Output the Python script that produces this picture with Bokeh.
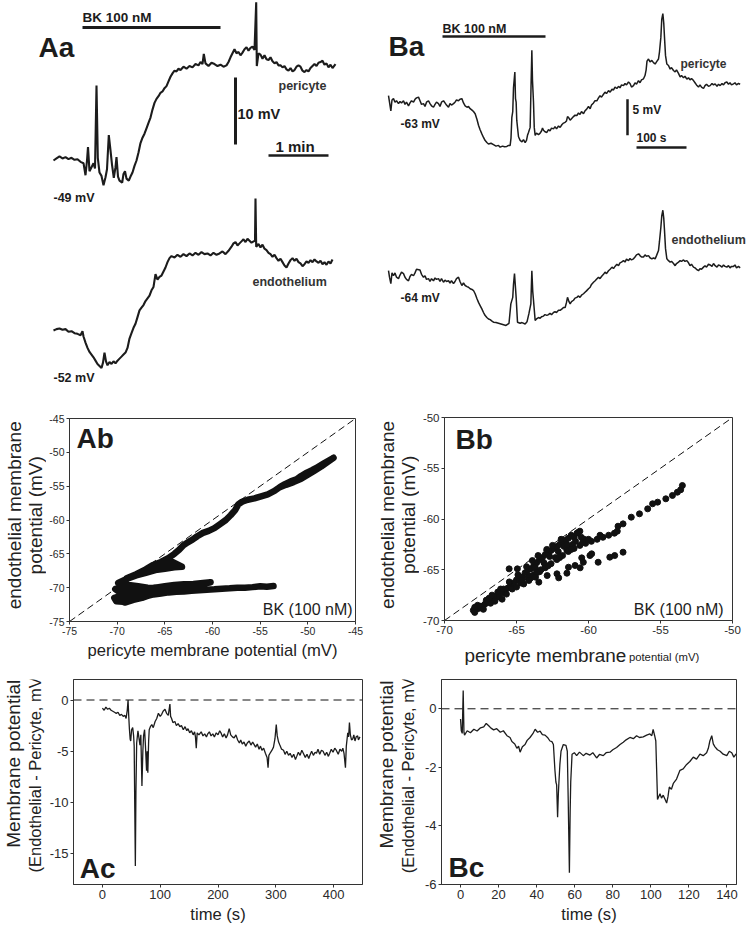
from bokeh.plotting import figure
from bokeh.models import Label, Range1d, Span, FixedTicker
from bokeh.layouts import row, column
from bokeh.embed import file_html
from bokeh.resources import INLINE

FONT = "Liberation Sans"
INK = "#1c1c1c"

# ---------------- Aa traces (t in s, mV) ----------------
aa_peri_pts = [(0,-49.0),(3,-48.7),(6,-48.4),(9,-48.7),(12,-48.5),(15,-48.8),(18,-48.6),(21,-48.9),(24,-48.8),(27,-49.2),
 (30,-49.4),(32,-51.2),(33.5,-49.0),(34.5,-47.0),(36,-50.6),(38,-50.0),(40,-49.4),(41.5,-50.2),(43,-37.8),(44.3,-48.6),
 (46,-50.8),(48,-51.3),(50,-52.7),(52,-51.5),(53.5,-50.3),(55.3,-45.2),(57,-47.5),(58.5,-49.6),(60.3,-51.6),(62,-50.0),
 (63,-48.5),(64.5,-51.4),(66,-52.0),(68.7,-52.3),(70,-51.0),(71.5,-50.6),(73,-51.7),(75.3,-52.0),(77,-51.4),(79,-50.8),
 (81,-49.8),(83,-49.0),(85,-47.8),(87,-46.4),(89,-45.6),(91,-45.0),(93,-44.2),(95,-43.4),(97,-42.6),(99,-41.4),
 (101,-40.4),(103,-39.8),(105,-39.4),(107,-38.9),(109,-38.7),(111,-38.2),(113,-37.9),(115,-37.2),(117,-36.5),(119,-36.0),
 (121,-35.6),(123,-35.7),(125,-35.3),(127,-35.5),(130,-35.0),(133,-35.3),(136,-34.9),(139,-35.1),(142,-34.6),(145,-34.8),
 (147,-34.3),(149,-34.6),(150.3,-33.1),(152,-34.5),(155,-34.9),(158,-34.4),(161,-34.6),(164,-34.9),(167,-34.7),(170,-35.0),
 (173,-34.8),(175,-34.3),(177,-33.6),(179,-33.0),(181,-32.4),(183,-33.0),(185,-32.8),(187,-33.3),(189,-32.9),(191,-32.4),
 (193,-32.1),(195,-32.6),(197,-32.2),(199,-32.0),(201,-32.5),(202.7,-25.4),(203.3,-34.9),(205,-33.0),(207,-33.2),(209,-33.8),
 (211,-33.3),(213,-33.9),(215,-34.0),(217,-33.6),(219,-34.2),(221,-34.5),(223,-34.3),(225,-34.8),(227,-34.8),(229,-35.1),
 (231,-34.9),(233,-35.4),(235,-35.6),(237,-35.2),(239,-35.7),(241,-35.5),(243,-35.0),(245,-34.8),(247,-35.0),(249,-35.6),
 (251,-35.8),(253,-35.5),(255,-35.7),(257,-35.2),(259,-34.9),(261,-34.6),(263,-34.9),(265,-34.4),(267,-34.3),(269,-34.1),
 (271,-34.7),(273,-34.5),(275,-35.1),(277,-34.7),(279,-35.2),(282,-34.6)]
aa_endo_pts = [(0,-52.0),(3,-51.8),(6,-51.7),(9,-51.9),(12,-51.8),(15,-52.2),(18,-52.1),(21,-52.4),(24,-52.5),(27,-52.7),
 (29,-52.1),(30,-52.9),(32,-53.8),(34,-54.6),(36,-55.2),(38,-55.6),(40,-56.0),(42,-56.5),(44,-57.0),(46,-57.3),
 (48,-57.6),(49.5,-56.8),(51,-55.3),(52.5,-56.6),(54,-57.2),(56,-56.7),(58,-57.0),(60,-56.6),(62,-56.9),(64,-56.5),
 (66,-56.2),(68,-55.9),(70,-55.6),(72,-55.3),(74,-54.6),(76,-53.2),(78,-52.4),(80,-51.6),(82,-51.0),(84,-50.0),
 (86,-49.0),(88,-48.6),(90,-48.2),(92,-47.6),(94,-47.2),(96,-46.8),(98,-46.0),(100,-45.5),(102,-43.6),(104,-44.4),
 (106,-44.0),(108,-43.8),(110,-43.2),(112,-42.6),(114,-41.8),(116,-41.2),(118,-40.9),(121,-41.1),(124,-40.7),(127,-41.0),
 (130,-40.6),(133,-40.9),(136,-40.5),(139,-40.8),(142,-40.4),(145,-40.7),(148,-40.3),(151,-40.6),(154,-40.5),(157,-40.8),
 (160,-40.4),(163,-40.7),(166,-40.5),(169,-40.2),(172,-40.6),(175,-40.1),(178,-39.5),(180,-39.0),(182,-38.8),(184,-39.3),
 (186,-39.0),(188,-38.7),(190,-38.4),(192,-38.8),(194,-38.3),(196,-38.6),(198,-38.9),(201.5,-38.6),(202,-32.3),(202.7,-39.5),
 (205,-39.1),(207,-39.6),(209,-39.2),(211,-39.8),(213,-40.0),(215,-40.4),(217,-40.6),(219,-41.0),(221,-40.7),(223,-41.2),
 (225,-41.6),(227,-41.3),(229,-41.8),(231,-42.3),(233,-42.6),(235,-42.0),(237,-41.5),(239,-41.2),(241,-41.6),(243,-41.3),
 (245,-41.8),(247,-42.0),(249,-42.4),(251,-42.1),(253,-41.7),(255,-41.9),(257,-41.5),(259,-41.8),(261,-41.4),(263,-41.7),
 (265,-41.9),(267,-41.6),(269,-42.1),(271,-41.8),(273,-42.2),(275,-41.7),(277,-42.0),(279,-41.4)]
aa_bk_window = [29, 167]          # s, BK application bar
aa_bk_level = -29.15
aa_mv_bar_t = 182
aa_mv_bar = [-46.6, -36.6]        # 10 mV
aa_min_bar = [215, 275]           # 1 min
aa_min_level = -48.25

# ---------------- Ba traces ----------------
ba_peri_pts = [(0,-62.1),(2,-63.0),(4.7,-64.2),(7,-62.7),(10,-62.5),(13,-63.0),(16,-62.8),(20,-63.2),(23,-62.9),(26,-63.1),
 (30,-62.8),(33,-63.3),(36,-63.0),(40,-63.5),(43,-63.1),(46,-62.8),(50,-63.0),(53,-62.6),(56,-62.4),(60,-62.3),
 (63,-62.8),(66,-63.3),(70,-63.2),(73,-63.6),(76,-63.0),(80,-62.8),(83,-63.2),(86,-63.5),(90,-63.7),(93,-63.3),
 (96,-63.0),(100,-63.2),(103,-63.6),(106,-63.0),(110,-62.8),(113,-63.1),(116,-63.4),(120,-63.7),(123,-63.2),(126,-63.4),
 (130,-63.2),(133,-63.0),(136,-62.7),(140,-62.8),(143,-62.6),(146.7,-62.5),(150,-63.1),(153.3,-63.5),(157,-63.7),(160,-63.6),
 (163.3,-63.9),(167,-64.1),(170,-64.3),(173.3,-64.6),(177,-65.4),(180,-66.2),(183,-66.8),(186.7,-67.4),(190,-67.9),(193,-68.3),
 (196.7,-68.6),(200,-68.8),(205,-68.7),(210,-68.9),(215,-69.1),(220,-69.0),(223.3,-69.25),(228,-69.1),(232,-69.2),(236.7,-69.15),
 (240,-69.0),(243.3,-69.0),(245,-68.0),(246.7,-65.1),(248.5,-64.3),(250,-61.0),(252.7,-58.8),(254,-62.5),(255.3,-63.0),(256.5,-65.5),
 (258,-66.5),(260,-67.8),(263.3,-68.3),(267,-68.5),(270,-68.2),(273.3,-68.6),(276,-68.3),(278,-67.6),(280,-67.2),(283.3,-66.5),
 (285,-61.0),(286.7,-55.8),(288,-60.0),(290,-63.0),(291.5,-66.5),(293.3,-67.6),(296,-67.3),(300,-67.5),(303.3,-67.3),(306,-67.0),
 (308,-66.6),(310,-66.9),(313,-67.1),(316.7,-67.2),(320,-66.8),(323,-67.0),(326,-66.6),(330,-66.7),(333,-66.4),(336,-66.7),
 (340,-66.3),(343.3,-66.5),(347,-66.1),(350,-65.9),(353.3,-65.8),(356,-65.6),(358,-65.0),(360,-65.1),(363.3,-65.5),(366,-65.3),
 (370,-65.0),(373,-64.8),(376.7,-64.85),(380,-64.5),(383,-64.7),(386,-64.3),(390,-64.6),(393,-64.2),(396,-64.0),(400,-63.6),
 (403.3,-63.9),(406,-63.4),(410,-63.1),(413,-62.8),(416.7,-62.8),(420,-62.4),(423,-62.1),(426,-62.3),(430,-61.9),(433,-61.6),
 (436,-61.8),(440,-61.4),(443.3,-61.6),(447,-61.2),(450,-61.3),(453,-60.9),(456.7,-61.1),(460,-60.8),(463,-61.0),(466,-60.6),
 (470,-60.7),(473,-60.4),(476,-60.6),(480,-60.2),(483,-60.4),(486,-60.9),(490,-60.7),(493,-60.3),(496,-60.5),(500,-60.0),
 (503,-60.3),(506,-59.9),(510,-59.75),(513,-59.3),(515.3,-58.5),(517,-57.3),(520,-57.0),(523,-57.4),(526.7,-57.2),(530,-57.5),
 (533.3,-57.7),(536,-57.4),(540,-57.0),(542,-56.0),(544.7,-54.0),(546.5,-51.5),(548.7,-50.7),(550.5,-52.0),(552,-54.0),(554,-56.5),
 (556.7,-57.7),(560,-57.9),(563.3,-58.4),(566,-58.2),(570,-58.6),(573.3,-58.8),(576,-58.5),(580,-59.0),(583.3,-59.5),(586,-59.3),
 (590,-59.6),(593,-59.4),(596.7,-59.8),(600,-59.6),(603,-59.9),(606,-59.7),(610,-60.0),(613,-60.3),(616,-60.6),(620,-60.9),
 (623,-60.6),(626,-60.9),(630,-61.1),(633,-60.7),(636,-60.5),(640,-60.8),(643.3,-60.7),(647,-60.4),(650,-60.6),(653.3,-60.45),
 (657,-60.8),(660,-60.5),(663.3,-60.7),(667,-60.4),(670,-60.6),(673,-60.3),(676.7,-60.2),(680,-60.5),(683,-60.3),(686,-60.6),
 (690,-60.45),(693,-60.3),(696,-60.6),(700,-60.4),(703.3,-60.5)]
ba_endo_pts = [(0,-63.1),(2,-64.0),(4.7,-64.9),(7,-63.4),(10,-63.8),(13,-63.4),(16,-64.0),(20,-64.2),(23,-63.7),(26,-63.3),
 (30,-63.5),(33,-64.0),(36,-64.3),(40,-64.5),(43,-63.9),(46,-63.6),(50,-63.8),(53,-63.4),(56,-62.9),(63,-63.0),
 (66,-63.6),(70,-64.0),(73,-63.8),(76,-64.3),(80,-64.2),(83,-64.6),(86,-64.2),(90,-64.5),(93,-64.1),(96,-64.3),
 (100,-64.2),(103,-64.6),(106,-64.2),(110,-64.7),(113,-64.4),(116,-64.6),(120,-64.5),(123,-64.8),(126,-64.5),(130,-64.9),
 (133,-64.6),(136,-64.2),(140,-64.0),(143,-64.6),(146.7,-65.15),(150,-64.8),(153.3,-65.15),(157,-65.3),(160,-65.4),(163.3,-65.6),
 (167,-65.7),(170,-65.85),(173.3,-66.3),(177,-67.0),(180,-67.5),(183,-67.9),(186.7,-68.4),(190,-68.9),(193,-69.3),(196.7,-69.6),
 (200,-69.8),(203.3,-69.9),(207,-70.1),(210,-70.25),(215,-70.3),(220,-70.4),(225,-70.5),(230,-70.6),(235,-70.7),(241,-70.4),
 (244.7,-67.7),(248.5,-66.8),(250,-65.0),(252,-63.5),(253.5,-65.0),(255.3,-66.8),(258,-70.25),(263.3,-70.4),(267,-70.3),(273.3,-70.5),
 (277,-70.2),(280.7,-69.1),(284.7,-67.7),(286.7,-63.1),(288.5,-66.0),(290,-67.2),(293.3,-70.0),(296,-69.8),(300,-69.6),(303.3,-69.7),
 (306,-69.5),(310,-69.4),(313,-69.2),(316.7,-69.3),(320,-69.2),(323,-69.0),(326,-69.2),(330,-68.9),(333,-68.8),(336,-68.9),
 (340,-68.6),(343.3,-68.6),(347,-68.4),(350,-68.2),(353.3,-68.2),(356,-67.5),(358,-66.8),(361,-67.4),(363.3,-67.7),(366,-67.4),
 (370,-67.2),(373,-66.9),(376.7,-66.8),(380,-66.6),(383,-66.8),(386,-66.5),(390,-66.3),(393,-66.1),(396,-65.9),(400,-65.6),
 (403.3,-65.4),(406,-65.0),(410,-64.7),(413.3,-64.5),(416,-64.3),(420,-64.0),(423,-64.2),(426,-63.9),(430,-63.6),(433,-63.3),
 (436,-63.5),(440,-63.1),(443.3,-62.9),(447,-62.6),(450,-62.8),(453,-62.5),(456.7,-62.2),(460,-62.4),(463,-62.0),(466,-61.9),
 (470,-61.7),(473,-61.9),(476,-61.5),(480,-61.7),(483,-61.4),(486,-61.6),(490,-61.45),(493,-61.2),(496,-60.9),(500,-60.75),
 (503,-61.0),(506,-61.2),(510,-61.2),(513,-60.9),(516,-61.1),(520,-61.0),(523,-61.3),(526.7,-61.45),(530,-61.3),(533.3,-61.45),
 (536,-61.0),(540,-60.3),(542,-59.0),(544.7,-57.1),(546.5,-55.5),(548.7,-54.7),(550.5,-55.8),(552,-57.5),(554,-60.0),(556.7,-61.45),
 (560,-61.7),(563.3,-61.9),(566,-61.8),(570,-62.1),(573.3,-62.4),(576,-62.1),(580,-61.9),(583.3,-61.7),(586,-61.8),(590,-61.6),
 (593,-61.8),(596.7,-61.7),(600,-62.0),(603,-62.4),(606,-62.2),(610,-62.6),(613,-62.7),(616,-62.9),(620,-63.1),(623,-62.8),
 (626,-62.9),(630,-62.6),(633,-62.4),(636,-62.6),(640,-62.2),(643.3,-62.3),(647,-62.5),(650,-62.1),(653.3,-62.4),(657,-62.6),
 (660,-62.3),(663.3,-62.4),(667,-62.6),(670,-62.3),(673,-62.5),(676.7,-62.6),(680,-62.4),(683,-62.7),(686,-62.5),(690,-62.5),
 (693,-62.3),(696,-62.7),(700,-62.5),(703.3,-62.7)]
ba_bk_window = [108, 314]
ba_bk_level = -53.87
ba_mv_bar_t = 478
ba_mv_bar = [-67.6, -62.6]        # 5 mV
ba_s_bar = [496, 596]             # 100 s
ba_s_level = -69.3

# ---------------- Ab: endothelial vs pericyte ----------------
ab_peri = [-53.6,-54.3,-55.0,-55.8,-56.6,-57.4,-58.2,-59.0,-59.8,-60.6,-61.4,-62.2,-63.0,-63.8,-64.6,-65.4,-66.2,
 -67.0,-67.8,-68.6,-69.4,-70.1,-70.3,-69.6,-68.8,-69.8,-70.2,-69.3,-68.4,-67.5,-66.6,-67.4,-68.3,-69.2,-70.0,-69.0,-68.0,-67.0,-66.0,
 -65.0,-64.0,-63.0,-62.0,-61.0,-60.2,-61.2,-62.4,-63.6,-64.8,-65.8,-66.8,-67.8,-68.8,-69.9,
 -69.0,-68.0,-67.0,-66.0,-65.0,-64.0,-63.2,
 -64.2,-65.2,-66.2,-67.2,-68.2,-69.0,
 -68.0,-67.0,-66.3,-65.4,-64.6,-64.0,-63.5,-63.1,-62.6,-62.1,-61.6,-61.0,-60.4,-59.8,-59.2,-58.6,-58.1,-57.6,-57.3,-56.9,
 -56.3,-55.6,-54.9,-54.2,-53.5,-52.9,-52.4,-51.8,-51.2,-50.7,-50.1,-49.5,-49.0,-48.4,-47.8,-47.3,
 -47.9,-48.6,-49.3,-50.0,-50.7,-51.5,-52.3,-53.0]
ab_endo = [-69.77,-69.85,-69.8,-69.92,-70.0,-70.0,-70.1,-70.15,-70.25,-70.3,-70.4,-70.45,-70.55,-70.6,-70.7,-70.85,-71.0,
 -71.3,-71.6,-71.9,-72.1,-72.0,-71.5,-71.2,-70.9,-70.6,-70.2,-69.9,-70.3,-70.7,-71.1,-71.5,-71.8,-72.2,-71.7,-71.2,-70.8,-70.4,-70.0,
 -69.8,-69.6,-69.5,-69.45,-69.3,-69.2,-69.5,-69.7,-69.8,-70.0,-70.1,-70.0,-69.8,-69.6,-69.3,
 -68.7,-68.2,-67.8,-67.4,-67.2,-67.0,-66.9,
 -66.2,-66.6,-67.2,-67.7,-68.2,-68.6,
 -68.0,-67.3,-66.7,-66.2,-65.6,-65.0,-64.4,-63.8,-63.3,-62.9,-62.4,-61.9,-61.6,-61.2,-60.6,-60.0,-59.3,-58.5,-57.7,-57.3,
 -57.0,-56.8,-56.5,-56.2,-55.7,-55.1,-54.7,-54.3,-54.0,-53.5,-53.0,-52.6,-52.2,-51.7,-51.2,-50.8,
 -51.4,-52.1,-52.7,-53.3,-53.9,-54.4,-54.8,-55.2]
ab_identity = [-75, -45]
ab_ticks = [-75, -70, -65, -60, -55, -50, -45]

# ---------------- Bb: endothelial vs pericyte (points) ----------------
bb_peri = [-68.0,-67.8,-67.6,-67.4,-67.7,-67.2,-67.0,-66.8,-66.6,-66.9,-66.4,-66.2,-66.0,-65.8,-66.1,-65.6,-65.4,-65.2,-65.5,-65.0,
 -64.8,-64.6,-64.9,-64.4,-64.2,-64.0,-64.3,-63.8,-63.6,-63.9,-63.4,-63.2,-63.5,-63.0,-62.8,-62.6,-62.9,-62.4,-62.2,-62.5,
 -62.0,-61.8,-61.6,-61.9,-61.4,-61.2,-61.0,-60.8,-60.6,-60.9,-61.3,-67.9,-67.5,-67.1,-66.7,-66.3,-65.9,-65.3,-64.7,-64.1,
 -63.7,-63.1,-62.7,-62.1,-61.7,-61.5,-60.7,
 -67.3,-66.5,-65.7,-64.5,-63.3,-62.3,-61.1,-60.5,-67.9,-66.0,-64.0,-62.0,-63.0,-65.0,-61.5,-60.3,
 -64.6,-64.2,-63.8,-63.4,-63.0,-62.6,-62.2,-61.8,-61.4,-61.0,-60.6,-60.2,-59.8,-59.4,-59.0,-58.6,-58.2,-58.0,-60.0,-59.2,
 -60.4,-61.2,-62.0,-62.8,-63.6,
 -57.95,-57.6,-57.03,-56.46,-55.89,-55.55,-55.2,-54.63,-54.17,-53.83,-53.6,-53.48,
 -65.51,-64.94,-64.14,-63.68,-63.45,-62.87,-62.19,-62.07,-61.5,-61.39,-60.93,-60.47,-60.36,-59.9,-59.78,-60.58,-59.33,-58.52,-58.18,-57.6]
bb_endo = [-69.0,-68.9,-68.8,-68.6,-68.5,-68.4,-68.2,-68.3,-67.9,-67.8,-67.6,-67.7,-67.3,-67.1,-66.9,-66.8,-66.6,-66.3,-66.2,-66.0,
 -66.1,-65.7,-65.5,-65.3,-65.0,-64.9,-64.7,-64.6,-64.3,-64.1,-64.0,-63.8,-63.6,-63.5,-63.4,-63.1,-63.0,-62.9,-62.7,-62.6,
 -62.5,-62.3,-62.1,-62.0,-61.9,-61.6,-61.8,-61.4,-61.2,-62.2,-62.8,-68.7,-68.6,-68.0,-67.5,-67.2,-66.9,-66.9,-66.3,-65.6,
 -64.8,-64.3,-63.7,-63.2,-62.7,-62.5,-61.3,
 -68.9,-68.1,-67.4,-66.4,-65.0,-63.8,-62.5,-61.8,-69.2,-67.9,-65.8,-63.8,-64.6,-66.7,-63.1,-62.0,
 -66.0,-65.8,-65.5,-65.2,-64.8,-64.4,-64.0,-63.6,-63.2,-62.9,-62.6,-62.4,-62.2,-62.0,-61.8,-61.6,-61.4,-61.2,-62.0,-61.6,
 -62.3,-63.0,-63.7,-64.6,-65.3,
 -60.71,-60.48,-59.82,-59.49,-59.0,-58.5,-58.34,-58.01,-57.68,-57.36,-57.12,-56.7,
 -64.91,-64.91,-66.06,-65.73,-66.22,-65.57,-65.4,-65.8,-65.34,-64.75,-64.58,-63.83,-64.26,-63.6,-63.43,-64.81,-64.26,-63.76,-63.6,-63.27]
bb_identity = [-70, -50]
bb_ticks = [-70, -65, -60, -55, -50]

# ---------------- Ac: endothelial - pericyte ----------------
ac_pts = [(0,-0.8),(3,-1.0),(6,-0.7),(9,-0.9),(12,-0.8),(15,-1.0),(18,-1.1),(21,-1.2),(24,-1.3),(27,-1.2),(30,-1.5),(33,-1.4),
 (36,-1.6),(39,-1.5),(41,-1.8),(43,-1.0),(44.4,0.0),(45.5,-1.5),(46.7,-2.8),(48,-3.8),(49,-4.0),(50.5,-2.9),(52.4,-2.7),(54,-3.5),
 (55,-4.5),(56,-10.5),(57,-16.2),(58,-9.0),(59.3,-4.2),(61.5,-3.0),(63,-3.6),(65,-4.4),(66.5,-3.4),(68.4,-8.4),(70,-5.0),(71.2,-3.5),
 (73,-2.9),(74.5,-4.5),(76.4,-6.9),(77.5,-5.0),(78.6,-7.1),(80,-4.0),(81,-2.9),(83,-2.6),(85.5,-2.4),(88,-2.7),(91.2,-2.1),(94,-1.8),
 (96.9,-1.3),(100,-1.6),(102.6,-1.4),(105,-1.1),(108.3,-0.9),(111,-1.3),(114,-1.5),(116.8,-0.4),(118,-1.6),(119.7,-1.8),(122,-2.2),
 (125.4,-2.1),(128,-2.5),(131,-2.3),(134,-2.6),(136.8,-2.5),(140,-2.9),(143,-2.6),(146,-3.0),(148.1,-2.8),(151,-3.2),(154,-3.0),
 (157,-3.4),(159.5,-3.1),(161,-3.6),(162.4,-4.7),(164,-3.2),(167,-3.4),(170.9,-3.1),(174,-3.5),(177,-3.3),(180,-3.6),(182.3,-3.3),
 (185,-3.1),(188,-3.5),(191,-3.3),(193.7,-3.6),(197,-3.2),(200,-3.4),(203,-3.0),(205.1,-3.2),(208,-3.6),(211,-3.3),(214,-3.7),
 (216.5,-3.4),(219.4,-2.8),(222,-3.4),(225,-3.6),(227.9,-3.7),(231,-3.4),(234,-3.9),(237,-4.2),(239.3,-3.9),(242,-4.3),(245,-4.1),
 (248,-4.5),(250.7,-4.2),(254,-4.0),(257,-4.4),(260,-4.1),(262.1,-4.3),(265,-4.6),(268,-4.3),(271,-4.8),(273.5,-4.5),(276,-4.9),
 (279,-4.7),(282,-5.2),(284.9,-5.6),(286.6,-6.6),(288,-5.4),(291,-5.1),(293.4,-4.9),(296,-4.6),(298.5,-3.8),(300.8,-2.4),(302.5,-3.5),
 (304.8,-4.1),(307,-4.4),(310,-4.8),(313.4,-4.9),(316,-5.3),(319,-5.0),(322,-5.4),(324.8,-5.2),(328,-5.6),(331,-5.3),(334,-5.8),
 (336.2,-5.5),(339,-5.1),(342,-5.4),(345,-4.9),(347.6,-5.2),(351,-5.6),(354,-5.3),(357,-5.7),(359,-5.4),(362,-5.0),(365,-5.4),
 (368,-5.1),(370.4,-5.2),(373,-4.8),(376,-5.3),(379,-4.9),(381.8,-5.0),(385,-5.4),(388,-5.1),(391,-5.5),(393.2,-5.2),(396,-4.8),
 (399,-5.1),(402,-4.7),(404.6,-4.9),(408,-5.3),(411,-4.8),(414,-5.0),(416,-4.7),(418,-5.2),(420.5,-6.6),(422,-4.5),(424.5,-3.2),
 (426,-3.6),(427.4,-2.2),(429,-3.4),(431,-3.9),(433.1,-3.8),(435,-3.4),(437,-4.0),(439,-3.6),(441.6,-3.5),(443,-3.9),(445.6,-3.6)]
ac_xticks = [0, 100, 200, 300, 400]
ac_yticks = [0, -5, -10, -15]

# ---------------- Bc: endothelial - pericyte ----------------
bc_pts = [(0,-0.35),(0.4,-0.75),(0.9,-0.84),(1.4,0.62),(1.8,-0.8),(2.1,-0.9),(3.5,-0.75),(5.2,-0.82),(7,-0.7),(8.7,-0.76),
 (10.5,-0.65),(12.2,-0.62),(13.5,-0.5),(14.8,-0.58),(16,-0.66),(17.4,-0.72),(19,-0.68),(20.9,-0.8),(22.5,-0.75),(24.4,-0.92),
 (26,-0.98),(27,-1.12),(28.5,-1.2),(29.6,-1.35),(30.5,-1.28),(31.3,-1.48),(32.5,-1.3),(33.9,-1.22),(35,-1.08),(36.5,-0.98),
 (38,-0.85),(39.2,-0.7),(40.5,-0.8),(41.8,-0.76),(43,-0.88),(44.4,-0.9),(45.7,-0.98),(47,-1.1),(48,-1.12),(48.8,-1.22),
 (49.6,-2.1),(50.1,-2.5),(50.5,-2.6),(51,-3.7),(51.4,-2.9),(51.7,-2.5),(52.2,-1.9),(52.8,-1.45),(54,-1.22),(55.4,-1.25),
 (56.1,-1.45),(56.6,-3.2),(57.2,-5.6),(57.6,-3.5),(57.9,-2.5),(58.6,-1.55),(59.8,-1.5),(61,-1.6),(62.5,-1.48),(64.5,-1.6),
 (66,-1.52),(68,-1.58),(69.5,-1.5),(71.5,-1.68),(73,-1.56),(75,-1.6),(76.5,-1.5),(78.5,-1.48),(80,-1.4),(82,-1.32),
 (83.8,-1.22),(85.5,-1.14),(87,-1.06),(89,-0.98),(90.8,-1.02),(92.5,-0.92),(94,-0.98),(96,-0.96),(97.8,-0.9),(99.5,-0.86),
 (100.5,-0.92),(101.2,-0.7),(102,-0.92),(102.6,-1.1),(103,-2.0),(103.5,-3.1),(104.8,-2.9),(105.6,-3.05),(106.5,-2.95),(107.5,-3.1),
 (108.3,-3.22),(109,-3.0),(109.7,-2.67),(110.8,-2.75),(111.8,-2.55),(113.5,-2.4),(115.3,-2.1),(117,-2.05),(118.8,-1.9),(120.5,-1.8),
 (122.3,-1.65),(124,-1.72),(125.8,-1.55),(127.5,-1.6),(129.3,-1.5),(130.2,-1.35),(131,-1.1),(132,-0.92),(132.8,-1.2),(133.7,-1.3),
 (135,-1.4),(136.4,-1.45),(138,-1.55),(139.9,-1.6),(141.2,-1.45),(142.5,-1.5),(143.6,-1.65),(144.8,-1.54)]
bc_xticks = [0, 20, 40, 60, 80, 100, 120, 140]
bc_yticks = [0, -2, -4, -6]


def unzip(pts):
    return [p[0] for p in pts], [p[1] for p in pts]


def lab(p, x, y, text, size, bold=True, align="left", rng=None, color=INK, angle=0):
    kw = {}
    if rng:
        kw["y_range_name"] = rng
    p.add_layout(Label(x=x, y=y, text=text, text_font=FONT, text_font_size=f"{size}px",
                       text_font_style="bold" if bold else "normal", text_color=color,
                       text_align=align, text_baseline="middle", angle=angle, angle_units="deg", **kw))


def bare_fig(width, height, xr, yr):
    p = figure(width=width, height=height, x_range=Range1d(*xr), y_range=Range1d(*yr),
               x_axis_type=None, y_axis_type=None, output_backend="svg", toolbar_location=None,
               title=None, min_border=0)
    p.grid.visible = False
    p.outline_line_color = None
    return p


def strip(width, height, x0, y0):
    # a text-only strip whose coordinates are page pixels (y grows downward)
    return bare_fig(width, height, (x0, x0 + width), (y0 + height, y0))


def trace_fig(width, height, xr, yr, yr2):
    p = bare_fig(width, height, xr, yr)
    p.extra_y_ranges = {"endo": Range1d(*yr2)}
    return p


def axis_fig(width, height, xr, yr, borders, xticks, yticks, tick_size):
    l, r, t, b = borders
    p = figure(width=width, height=height, x_range=Range1d(*xr), y_range=Range1d(*yr),
               output_backend="svg", toolbar_location=None, title=None,
               min_border_left=l, min_border_right=r, min_border_top=t, min_border_bottom=b)
    p.grid.visible = False
    p.outline_line_color = "#333333"
    p.outline_line_width = 1
    p.xaxis.ticker = FixedTicker(ticks=xticks)
    p.yaxis.ticker = FixedTicker(ticks=yticks)
    p.xaxis.major_label_overrides = {v: str(v) for v in xticks}
    p.yaxis.major_label_overrides = {v: str(v) for v in yticks}
    for ax in p.axis:
        ax.axis_line_color = "#333333"
        ax.major_tick_line_color = "#333333"
        ax.major_tick_out = 3
        ax.major_tick_in = 0
        ax.minor_tick_line_color = None
        ax.major_label_text_font = FONT
        ax.major_label_text_font_size = f"{tick_size}px"
        ax.major_label_text_color = "#2a2a2a"
        ax.major_label_standoff = 2
        ax.axis_label_text_font = FONT
        ax.axis_label_text_font_style = "normal"
        ax.axis_label_text_color = "#222222"
        ax.axis_label_standoff = 3
    return p


# ---------- Aa ----------
pa = trace_fig(373, 386, (-53, 320), (-82.73, -25.12), (-60.36, -2.75))
t, v = unzip(aa_peri_pts)
pa.line(t, v, line_color=INK, line_width=2.1)
t, v = unzip(aa_endo_pts)
pa.line(t, v, line_color=INK, line_width=2.1, y_range_name="endo")
pa.line(aa_bk_window, [aa_bk_level] * 2, line_color=INK, line_width=3)
pa.line([aa_mv_bar_t] * 2, aa_mv_bar, line_color=INK, line_width=3)
pa.line(aa_min_bar, [aa_min_level] * 2, line_color=INK, line_width=2.5)
lab(pa, -15, -32.13, "Aa", 28)
lab(pa, 29, -27.73, "BK 100 nM", 13.5)
lab(pa, 225, -37.81, "pericyte", 12.5, color="#333333")
lab(pa, 184, -41.99, "10 mV", 14.5)
lab(pa, 222, -46.91, "1 min", 15)
lab(pa, 0, -54.67, "-49 mV", 12.5)
lab(pa, 199, -44.69, "endothelium", 12.5, rng="endo", color="#333333")
lab(pa, 0, -59.16, "-52 mV", 12.5, rng="endo")

# ---------- Ba ----------
pb = trace_fig(374, 386, (-30, 718), (-102.49, -48.875), (-79.18, -25.57))
t, v = unzip(ba_peri_pts)
pb.line(t, v, line_color=INK, line_width=1.5)
t, v = unzip(ba_endo_pts)
pb.line(t, v, line_color=INK, line_width=1.5, y_range_name="endo")
pb.line(ba_bk_window, [ba_bk_level] * 2, line_color=INK, line_width=2.5)
pb.line([ba_mv_bar_t] * 2, ba_mv_bar, line_color=INK, line_width=2.5)
pb.line(ba_s_bar, [ba_s_level] * 2, line_color=INK, line_width=2.5)
lab(pb, 0, -55.33, "Ba", 28)
lab(pb, 108, -52.90, "BK 100 nM", 12.5)
lab(pb, 584, -57.63, "pericyte", 12, color="#333333")
lab(pb, 488, -64.15, "5 mV", 12)
lab(pb, 496, -68.04, "100 s", 12)
lab(pb, 24, -65.96, "-63 mV", 12)
lab(pb, 566, -58.90, "endothelium", 12.5, rng="endo", color="#333333")
lab(pb, 24, -66.82, "-64 mV", 12, rng="endo")

# ---------- Ab ----------
sab = strip(46, 279, 0, 386)
lab(sab, 13.5, 519, "endothelial membrane", 19, bold=False, align="center", color="#222222", angle=90)
lab(sab, 34.5, 519, "potential (mV)", 19, bold=False, align="center", color="#222222", angle=90)
pab = axis_fig(327, 279, (-75, -45), (-75, -45), (20, 18, 32, 44), ab_ticks, ab_ticks, 10.5)
pab.xaxis.axis_label = "pericyte membrane potential (mV)"
pab.xaxis.axis_label_text_font_size = "16.6px"
pab.line(ab_identity, ab_identity, line_color="#111111", line_width=1, line_dash="7 4")
pab.line(ab_peri, ab_endo, line_color="#111111", line_width=6.5, line_join="round", line_cap="round")
lab(pab, -74.27, -47.95, "Ab", 28)
lab(pab, -45.3, -73.21, "BK (100 nM)", 16, bold=False, align="right")

# ---------- Bb ----------
sbb = strip(46, 279, 373, 386)
lab(sbb, 386.5, 518.5, "endothelial membrane", 19, bold=False, align="center", color="#222222", angle=90)
lab(sbb, 407.5, 518.5, "potential (mV)", 19, bold=False, align="center", color="#222222", angle=90)
pbb = axis_fig(328, 254, (-70, -50), (-70, -50), (22, 15, 31, 20), bb_ticks, bb_ticks, 11.5)
pbb.line(bb_identity, bb_identity, line_color="#111111", line_width=1, line_dash="7 4")
pbb.scatter(bb_peri, bb_endo, size=6, color="#111111")
lab(pbb, -69.24, -52.17, "Bb", 28)
lab(pbb, -50.62, -68.92, "BK (100 nM)", 16, bold=False, align="right")
pbl = strip(328, 25, 419, 640)
lab(pbl, 626, 655, "pericyte membrane", 18.9, bold=False, align="right", color="#222222")
lab(pbl, 629, 656, "potential (mV)", 11.3, bold=False, align="left", color="#222222")

# ---------- Ac ----------
sac = strip(46, 270, 0, 665)
lab(sac, 13, 776, "Membrane potential", 19, bold=False, align="center", color="#222222", angle=90)
lab(sac, 34, 787, "(Endothelial - Pericyte, mV)", 16.5, bold=False, align="center", color="#222222", angle=90)
pac = axis_fig(327, 270, (-50, 450), (-18, 2), (24, 11, 13, 51), ac_xticks, ac_yticks, 13)
pac.xaxis.axis_label = "time (s)"
pac.xaxis.axis_label_text_font_size = "16.6px"
pac.add_layout(Span(location=0, dimension="width", line_color="#111111", line_width=1, line_dash="8 5"))
t, v = unzip(ac_pts)
pac.line(t, v, line_color=INK, line_width=1.3)
lab(pac, -39.3, -16.41, "Ac", 28)

# ---------- Bc ----------
sbc = strip(46, 270, 373, 665)
lab(sbc, 386, 777, "Membrane potential", 19, bold=False, align="center", color="#222222", angle=90)
lab(sbc, 407, 788, "(Endothelial - Pericyte, mV)", 16.5, bold=False, align="center", color="#222222", angle=90)
pbc = axis_fig(328, 270, (-10, 145), (-6, 1), (22, 11, 14, 50), bc_xticks, bc_yticks, 13)
pbc.xaxis.axis_label = "time (s)"
pbc.xaxis.axis_label_text_font_size = "16.6px"
pbc.add_layout(Span(location=0, dimension="width", line_color="#111111", line_width=1, line_dash="8 5"))
t, v = unzip(bc_pts)
pbc.line(t, v, line_color=INK, line_width=1.3)
lab(pbc, -6.3, -5.41, "Bc", 28)

layout = column(row(pa, pb),
                row(sab, pab, sbb, column(pbb, pbl)),
                row(sac, pac, sbc, pbc))
open("out.html", "w").write(file_html(layout, INLINE))
